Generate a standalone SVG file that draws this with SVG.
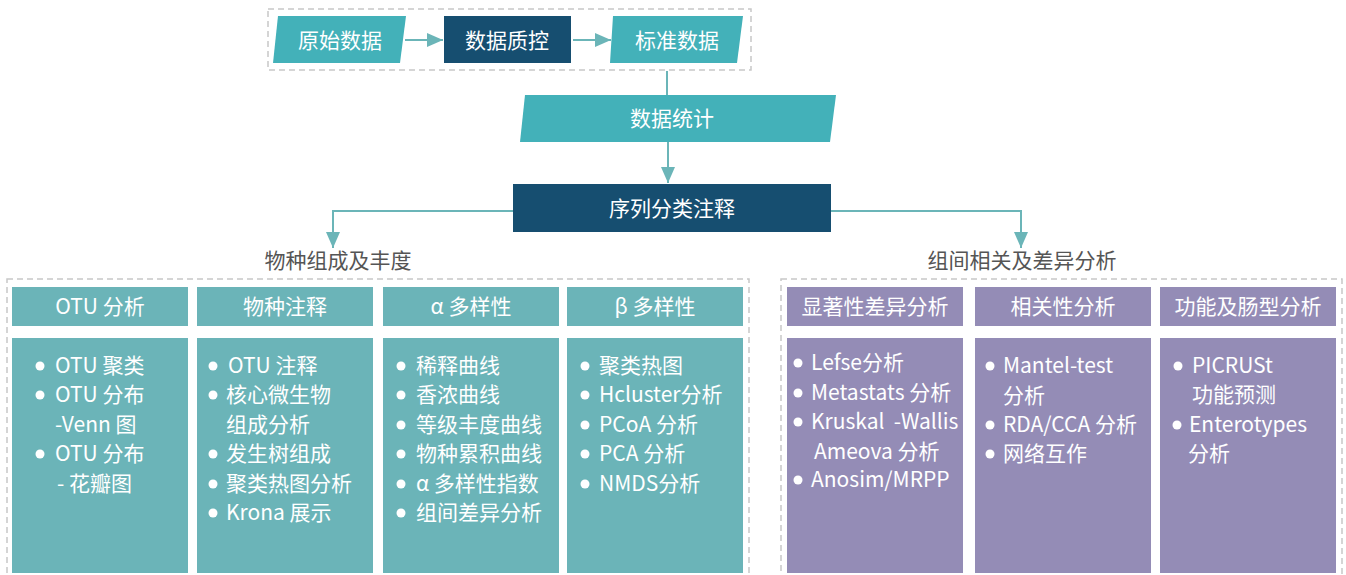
<svg xmlns="http://www.w3.org/2000/svg" width="1346" height="575" viewBox="0 0 1346 575">
<style>
text{font-family:"Noto Sans CJK SC","Noto Sans",sans-serif;font-size:21px;fill:#fff}
.c{text-anchor:middle}
.lab{fill:#555}
.dash{fill:none;stroke:#c8c8c8;stroke-width:1.5;stroke-dasharray:6 4}
.teal{fill:#43b1b9}
.navy{fill:#164e70}
.hd{fill:#6bb4b8}
.pu{fill:#948cb6}
.con{fill:none;stroke:#6bb5b8;stroke-width:2}
.b{fill:#fff}
</style>
<defs>
<marker id="ah" markerUnits="userSpaceOnUse" markerWidth="17" markerHeight="14" refX="16" refY="7" orient="auto">
<path d="M0,0 L16,7 L0,14 z" fill="#6bb5b8"/>
</marker>
</defs>
<rect class="dash" x="268" y="9" width="483" height="61"/>
<rect class="dash" x="7" y="279" width="742" height="310"/>
<rect class="dash" x="781" y="279" width="561" height="310"/>
<g id="connectors">
<line class="con" x1="405" y1="40" x2="443" y2="40" marker-end="url(#ah)"/>
<line class="con" x1="573" y1="40" x2="611" y2="40" marker-end="url(#ah)"/>
<line class="con" x1="667" y1="71" x2="667" y2="95"/>
<line class="con" x1="668" y1="142" x2="668" y2="183" marker-end="url(#ah)"/>
<path class="con" d="M513,211 H333 V248" marker-end="url(#ah)"/>
<path class="con" d="M831,211 H1021 V248" marker-end="url(#ah)"/>
</g>
<g id="raw"><polygon class="teal" points="278,16 406,16 400,63 273,63"/><text class="c" x="340" y="48">原始数据</text></g>
<g id="qc"><rect class="navy" x="444" y="16" width="127" height="47"/><text class="c" x="507" y="48">数据质控</text></g>
<g id="std"><polygon class="teal" points="613,16 743,16 737,63 610,63"/><text class="c" x="677" y="48">标准数据</text></g>
<g id="stat"><polygon class="teal" points="525,95 836,95 830,142 520,142"/><text class="c" x="672" y="126">数据统计</text></g>
<g id="anno"><rect class="navy" x="513" y="184" width="318" height="48"/><text class="c" x="672" y="216">序列分类注释</text></g>
<g id="lab-left"><text class="c lab" x="338" y="268">物种组成及丰度</text></g>
<g id="lab-right"><text class="c lab" x="1022" y="268">组间相关及差异分析</text></g>

<g id="otu">
<rect class="hd" x="12" y="287" width="176" height="39"/><text class="c" x="100" y="314">OTU 分析</text>
<rect class="hd" x="12" y="338" width="176" height="235"/>
<circle class="b" cx="40" cy="366" r="4.5"/><text x="55" y="373">OTU 聚类</text>
<circle class="b" cx="40" cy="395" r="4.5"/><text x="55" y="402">OTU 分布</text>
<text x="55" y="432">-Venn 图</text>
<circle class="b" cx="40" cy="454" r="4.5"/><text x="55" y="461">OTU 分布</text>
<text x="57" y="491">- 花瓣图</text>
</g>
<g id="species">
<rect class="hd" x="197" y="287" width="176" height="39"/><text class="c" x="285" y="314">物种注释</text>
<rect class="hd" x="197" y="338" width="176" height="235"/>
<circle class="b" cx="213" cy="366" r="4.5"/><text x="228" y="373">OTU 注释</text>
<circle class="b" cx="213" cy="395" r="4.5"/><text x="226" y="402">核心微生物</text>
<text x="226" y="432">组成分析</text>
<circle class="b" cx="213" cy="454" r="4.5"/><text x="226" y="461">发生树组成</text>
<circle class="b" cx="213" cy="484" r="4.5"/><text x="226" y="491">聚类热图分析</text>
<circle class="b" cx="213" cy="513" r="4.5"/><text x="226" y="520">Krona 展示</text>
</g>
<g id="alpha">
<rect class="hd" x="383" y="287" width="176" height="39"/><text class="c" x="471" y="314">α 多样性</text>
<rect class="hd" x="383" y="338" width="176" height="235"/>
<circle class="b" cx="401" cy="366" r="4.5"/><text x="416" y="373">稀释曲线</text>
<circle class="b" cx="401" cy="395" r="4.5"/><text x="416" y="402">香浓曲线</text>
<circle class="b" cx="401" cy="425" r="4.5"/><text x="416" y="432">等级丰度曲线</text>
<circle class="b" cx="401" cy="454" r="4.5"/><text x="416" y="461">物种累积曲线</text>
<circle class="b" cx="401" cy="484" r="4.5"/><text x="416" y="491">α 多样性指数</text>
<circle class="b" cx="401" cy="513" r="4.5"/><text x="416" y="520">组间差异分析</text>
</g>
<g id="beta">
<rect class="hd" x="567" y="287" width="176" height="39"/><text class="c" x="655" y="314">β 多样性</text>
<rect class="hd" x="567" y="338" width="176" height="235"/>
<circle class="b" cx="585" cy="366" r="4.5"/><text x="599" y="373">聚类热图</text>
<circle class="b" cx="585" cy="395" r="4.5"/><text x="599" y="402">Hcluster分析</text>
<circle class="b" cx="585" cy="425" r="4.5"/><text x="599" y="432">PCoA 分析</text>
<circle class="b" cx="585" cy="454" r="4.5"/><text x="599" y="461">PCA 分析</text>
<circle class="b" cx="585" cy="484" r="4.5"/><text x="599" y="491">NMDS分析</text>
</g>
<g id="diff">
<rect class="pu" x="787" y="287" width="176" height="39"/><text class="c" x="875" y="314">显著性差异分析</text>
<rect class="pu" x="787" y="338" width="176" height="235"/>
<circle class="b" cx="798" cy="363" r="4.5"/><text x="811" y="370">Lefse分析</text>
<circle class="b" cx="798" cy="393" r="4.5"/><text x="811" y="400">Metastats 分析</text>
<circle class="b" cx="798" cy="422" r="4.5"/><text x="811" y="429" xml:space="preserve">Kruskal  -Wallis</text>
<text x="814" y="459">Ameova 分析</text>
<circle class="b" cx="798" cy="480" r="4.5"/><text x="811" y="487">Anosim/MRPP</text>
</g>
<g id="corr">
<rect class="pu" x="975" y="287" width="176" height="39"/><text class="c" x="1063" y="314">相关性分析</text>
<rect class="pu" x="975" y="338" width="176" height="235"/>
<circle class="b" cx="990" cy="366" r="4.5"/><text x="1003" y="373">Mantel-test</text>
<text x="1003" y="403">分析</text>
<circle class="b" cx="990" cy="425" r="4.5"/><text x="1003" y="432">RDA/CCA 分析</text>
<circle class="b" cx="990" cy="454" r="4.5"/><text x="1003" y="461">网络互作</text>
</g>
<g id="func">
<rect class="pu" x="1160" y="287" width="176" height="39"/><text class="c" x="1248" y="314">功能及肠型分析</text>
<rect class="pu" x="1160" y="338" width="176" height="235"/>
<circle class="b" cx="1178" cy="366" r="4.5"/><text x="1192" y="373">PICRUSt</text>
<text x="1192" y="402">功能预测</text>
<circle class="b" cx="1177" cy="425" r="4.5"/><text x="1189" y="432">Enterotypes</text>
<text x="1188" y="461">分析</text>
</g>
</svg>
